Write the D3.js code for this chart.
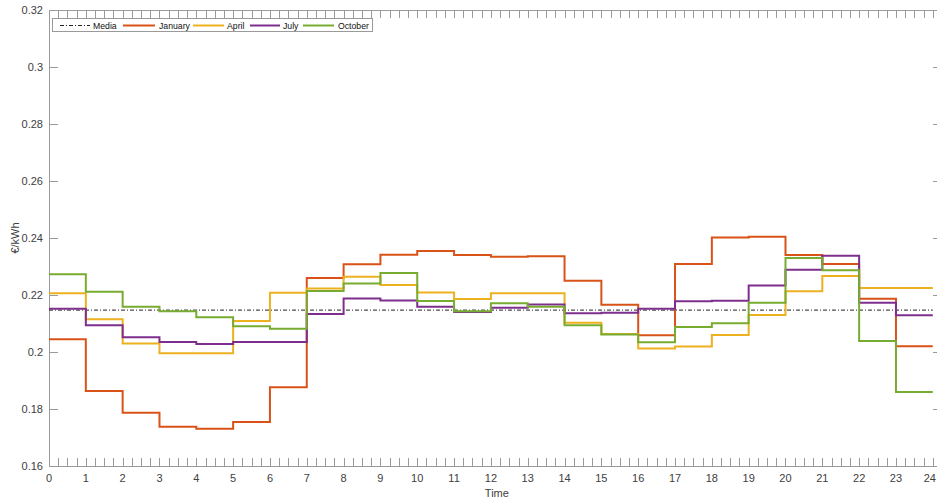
<!DOCTYPE html>
<html>
<head>
<meta charset="utf-8">
<script src="https://cdn.jsdelivr.net/npm/d3@7"></script>
<style>
  html, body { margin: 0; padding: 0; background: #fff; overflow: hidden; }
  svg { display: block; font-family: "Liberation Sans", Arial, sans-serif; }
</style>
</head>
<body>
<svg id="chart" width="937" height="502"></svg>
<script>
// Hourly price profiles (€/kWh), value i applies from hour i to hour i+1
const hours = d3.range(0, 24);
const january = [0.2045, 0.1863, 0.1787, 0.1738, 0.1731, 0.1754, 0.1876, 0.2260,
                 0.2308, 0.2341, 0.2354, 0.2340, 0.2334, 0.2336, 0.2250, 0.2166,
                 0.2059, 0.2309, 0.2402, 0.2404, 0.2340, 0.2309, 0.2187, 0.2020];
const april   = [0.2206, 0.2115, 0.2030, 0.1996, 0.1996, 0.2109, 0.2208, 0.2223,
                 0.2264, 0.2235, 0.2209, 0.2186, 0.2206, 0.2206, 0.2103, 0.2063,
                 0.2012, 0.2019, 0.2060, 0.2130, 0.2213, 0.2267, 0.2225, 0.2225];
const july    = [0.2152, 0.2094, 0.2052, 0.2035, 0.2028, 0.2035, 0.2035, 0.2133,
                 0.2188, 0.2181, 0.2159, 0.2140, 0.2155, 0.2167, 0.2136, 0.2138,
                 0.2152, 0.2178, 0.2180, 0.2233, 0.2289, 0.2338, 0.2173, 0.2129];
const october = [0.2273, 0.2211, 0.2159, 0.2143, 0.2122, 0.2090, 0.2082, 0.2214,
                 0.2240, 0.2277, 0.2179, 0.2143, 0.2171, 0.2159, 0.2094, 0.2061,
                 0.2034, 0.2088, 0.2101, 0.2173, 0.2330, 0.2287, 0.2039, 0.1860];
const media = 0.2147;

const seriesNames  = ["January", "April", "July", "October"];
const seriesValues = [january, april, july, october];
const seriesColors = ["#D95319", "#EDB120", "#7E2F8E", "#77AC30"];

const xTicks = d3.range(0, 25);
const yTicks = [0.16, 0.18, 0.2, 0.22, 0.24, 0.26, 0.28, 0.3, 0.32];

const svg = d3.select("#chart");
// The axes run a little past hour 24, so the right edge sits just beyond the canvas
const m = { left: 49, right: 942, top: 10, bottom: 466 };

const x = d3.scaleLinear().domain([0, 24.25]).range([m.left, m.right]);
const y = d3.scaleLinear().domain([0.16, 0.32]).range([m.bottom, m.top]);

const axisColor = "#9a9a9a";
const textColor = "#404040";

// Minor ticks every quarter hour, top and bottom, pointing inward
const quarter = d3.range(0, 24.26, 0.25);
const gx = svg.append("g").attr("stroke", axisColor).attr("stroke-width", 1);
quarter.forEach(q => {
  const px = Math.round(x(q)) + 0.5;
  gx.append("line").attr("x1", px).attr("x2", px).attr("y1", m.bottom).attr("y2", m.bottom - 8);
  gx.append("line").attr("x1", px).attr("x2", px).attr("y1", m.top).attr("y2", m.top + 8);
});

// Y ticks on both sides
yTicks.forEach(t => {
  const py = Math.round(y(t)) + 0.5;
  gx.append("line").attr("x1", m.left).attr("x2", m.left + 9).attr("y1", py).attr("y2", py);
  gx.append("line").attr("x1", m.right).attr("x2", m.right - 9).attr("y1", py).attr("y2", py);
});

// Axis box
svg.append("rect")
  .attr("x", m.left + 0.5).attr("y", m.top + 0.5)
  .attr("width", m.right - m.left).attr("height", m.bottom - m.top)
  .attr("fill", "none").attr("stroke", axisColor).attr("stroke-width", 1);

// Tick labels (the last one is kept inside the canvas edge)
svg.append("g").selectAll("text").data(xTicks).join("text")
  .attr("x", d => d === 24 ? Math.min(x(d) + 4, 936) : x(d)).attr("y", m.bottom + 16)
  .attr("text-anchor", d => d === 24 ? "end" : "middle")
  .attr("font-size", 11).attr("fill", textColor)
  .text(d => d);

svg.append("g").selectAll("text").data(yTicks).join("text")
  .attr("x", m.left - 6).attr("y", d => y(d) + 4)
  .attr("text-anchor", "end").attr("font-size", 11).attr("fill", textColor)
  .text(d => d3.format("~g")(d));

// Axis labels
svg.append("text").attr("x", x(12) + 6).attr("y", 497)
  .attr("text-anchor", "middle").attr("font-size", 11).attr("fill", textColor).text("Time");
svg.append("text").attr("transform", `translate(19,238) rotate(-90)`)
  .attr("text-anchor", "middle").attr("font-size", 11).attr("fill", textColor).text("€/kWh");

// Step lines
const line = d3.line()
  .x(d => x(d[0]))
  .y(d => y(d[1]))
  .curve(d3.curveStepAfter);

const plot = svg.append("g");

plot.append("path")
  .datum([[0, media], [24, media]])
  .attr("d", line)
  .attr("fill", "none").attr("stroke", "#222").attr("stroke-width", 1)
  .attr("stroke-dasharray", "4,2,1,2");

seriesValues.forEach((vals, i) => {
  const pts = hours.map(h => [h, vals[h]]);
  pts.push([24, vals[vals.length - 1]]);
  plot.append("path")
    .datum(pts)
    .attr("d", line)
    .attr("fill", "none")
    .attr("stroke", seriesColors[i])
    .attr("stroke-width", 2);
});

// Legend
const legend = svg.append("g").attr("font-size", 8.7).attr("fill", "#111");
legend.append("rect").attr("x", 52.5).attr("y", 18.5).attr("width", 320).attr("height", 13)
  .attr("fill", "#fff").attr("stroke", "#9a9a9a");

const legendItems = [
  { name: "Media", color: "#222", dash: "4,2,1,2", width: 1, x0: 60, x1: 90, tx: 93 },
  { name: "January", color: seriesColors[0], dash: null, width: 2, x0: 123, x1: 155, tx: 159 },
  { name: "April", color: seriesColors[1], dash: null, width: 2, x0: 193, x1: 224, tx: 227 },
  { name: "July", color: seriesColors[2], dash: null, width: 2, x0: 250, x1: 280, tx: 283 },
  { name: "October", color: seriesColors[3], dash: null, width: 2, x0: 303, x1: 334, tx: 338 }
];
legendItems.forEach(it => {
  legend.append("line").attr("x1", it.x0).attr("x2", it.x1).attr("y1", 25.5).attr("y2", 25.5)
    .attr("stroke", it.color).attr("stroke-width", it.width)
    .attr("stroke-dasharray", it.dash);
  legend.append("text").attr("x", it.tx).attr("y", 28.5).text(it.name);
});
</script>
</body>
</html>
